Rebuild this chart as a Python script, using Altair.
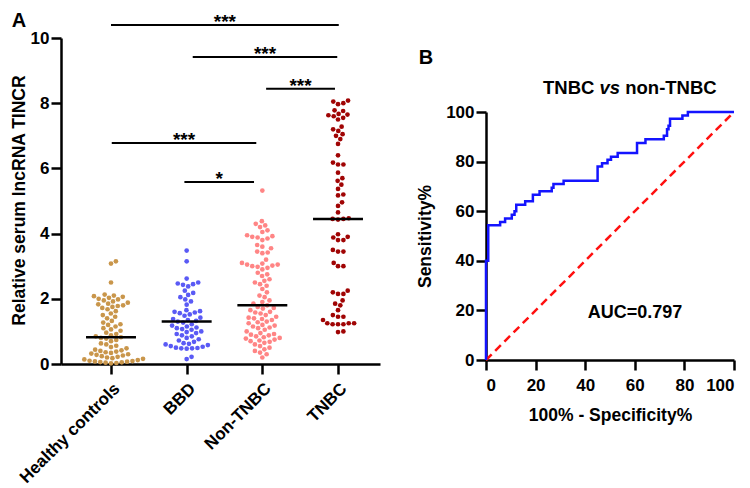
import json
import altair as alt
import numpy as np
import pandas as pd

# ---------------- data ----------------
groups = ["Healthy controls", "BBD", "Non-TNBC", "TNBC"]
group_colors = ["#C9964B", "#5A5AF5", "#FF8585", "#A00404"]

healthy = [3.15, 3.08, 2.50,
           2.13, 2.10, 2.08, 2.06, 2.03, 2.00, 1.98, 1.95, 1.92, 1.88, 1.85, 1.83, 1.80, 1.78, 1.75, 1.72, 1.68, 1.62, 1.55,
           1.50, 1.45, 1.40, 1.32, 1.27, 1.22, 1.20, 1.15, 1.10, 1.06, 1.02,
           0.96, 0.92, 0.88, 0.85, 0.82, 0.80, 0.78, 0.74, 0.70, 0.63, 0.60, 0.56, 0.52, 0.48,
           0.44, 0.42, 0.40, 0.38, 0.36, 0.34, 0.32, 0.30, 0.28, 0.26, 0.24, 0.22, 0.20,
           0.18, 0.16, 0.14, 0.12, 0.10, 0.09, 0.08, 0.07, 0.06, 0.05, 0.04, 0.03, 0.02]
bbd = [3.48, 3.15, 2.62, 2.50, 2.47, 2.45, 2.43, 2.38, 2.25, 2.18, 2.12, 2.05, 1.98, 1.92, 1.82,
       1.65, 1.62, 1.60, 1.58, 1.56, 1.52, 1.48, 1.42, 1.38, 1.35, 1.32, 1.30, 1.27, 1.22, 1.18,
       1.15, 1.12, 1.10, 1.07, 1.05, 1.00, 0.98, 0.95, 0.92, 0.88, 0.85, 0.80, 0.76, 0.72, 0.68,
       0.64, 0.62, 0.60, 0.58, 0.55, 0.53, 0.50, 0.49, 0.48, 0.48, 0.47, 0.22, 0.15]
non_tnbc = [5.32, 4.38, 4.30, 4.25, 4.20, 4.10, 4.05, 3.95, 3.92, 3.90, 3.88, 3.85, 3.80, 3.65, 3.60,
            3.55, 3.45, 3.42, 3.40, 3.20, 3.10, 3.08, 3.05, 3.05, 3.02, 3.00, 2.98, 2.95, 2.90, 2.80,
            2.75, 2.70, 2.60, 2.55, 2.50, 2.45, 2.40, 2.30, 2.20, 2.10, 2.05, 1.95, 1.90, 1.85, 1.80,
            1.75, 1.72, 1.70, 1.65, 1.60, 1.58, 1.55, 1.50, 1.45, 1.42, 1.40, 1.38, 1.35, 1.30, 1.28,
            1.25, 1.20, 1.18, 1.15, 1.12, 1.10, 1.05, 1.00, 0.95, 0.92, 0.90, 0.88, 0.85, 0.82, 0.80,
            0.78, 0.75, 0.72, 0.70, 0.68, 0.65, 0.60, 0.55, 0.50, 0.45, 0.40, 0.35, 0.30, 0.20]
tnbc = [8.08, 8.05, 8.00, 7.97,
        7.78, 7.76, 7.67, 7.65, 7.63, 7.60, 7.55, 7.50,
        7.28, 7.20, 7.15,
        7.05, 7.00, 6.90, 6.75,
        6.40,
        6.18, 6.12, 6.12,
        5.87, 5.70, 5.62, 5.50,
        5.37, 5.20, 5.17,
        4.96, 4.85, 4.65,
        4.47, 4.45, 4.45, 4.43,
        3.98, 3.90, 3.88, 3.80, 3.80,
        3.50, 3.45, 3.45,
        3.10, 3.00, 3.00,
        2.25, 2.20, 2.15, 2.15,
        1.95, 1.85, 1.80, 1.65,
        1.50, 1.45, 1.45, 1.35,
        1.25, 1.25, 1.25, 1.22, 1.22, 1.22,
        1.00, 0.98]
medians = [0.82, 1.30, 1.80, 4.45]

sig_x1 = [0.00, 1.08, 2.05, 0.01, 0.97]
sig_x2 = [3.01, 2.99, 2.96, 1.92, 1.89]
sig_y = [10.40, 9.42, 8.44, 6.78, 5.58]
sig_text = ["***", "***", "***", "***", "*"]

roc_fpr = [0, 0, 0.9, 0.9, 5.7, 5.7, 7.7, 7.7, 10.4, 10.4, 11.5, 11.5, 12.2, 12.2, 15.8, 15.8,
           18.9, 18.9, 21.6, 21.6, 26.5, 26.5, 27.2, 27.2, 31.3, 31.3, 45.0, 45.0, 46.8, 46.8,
           49.0, 49.0, 50.4, 50.4, 53.1, 53.1, 60.9, 60.9, 64.3, 64.3, 71.7, 71.7, 73.0, 73.0,
           73.6, 73.6, 74.2, 74.2, 79.2, 79.2, 81.4, 81.4, 100]
roc_tpr = [0, 40.0, 40.0, 54.3, 54.3, 55.6, 55.6, 57.1, 57.1, 58.6, 58.6, 60.0, 60.0, 62.6, 62.6, 64.0,
           64.0, 66.6, 66.6, 68.0, 68.0, 69.5, 69.5, 71.0, 71.0, 72.3, 72.3, 78.0, 78.0, 79.3,
           79.3, 80.7, 80.7, 82.0, 82.0, 83.5, 83.5, 87.5, 87.5, 89.0, 89.0, 90.4, 90.4, 93.0,
           93.0, 94.5, 94.5, 97.3, 97.3, 98.6, 98.6, 100, 100]
diag_x = [0, 100]
diag_y = [0, 100]
auc_label = "AUC=0.797"
title_parts = ["TNBC", "vs", "non-TNBC"]

# ---------------- layout helpers (page pixels -> view pixels) ----------------
FONT = "Liberation Sans"
PAD_L, PAD_T = 5, 3
W, H = 728, 477


def vx(p):
    return p - 8 - PAD_L


def vy(p):
    return p - 8 - PAD_T


A_X0_PX, A_STEP_PX = 111.0, 75.67
A_LEFT_PX, A_RIGHT_PX = 61.0, 380.0
A_BOT_PX, A_TOP_PX = 364.0, 38.0
A_X_DOMAIN = [(A_LEFT_PX - A_X0_PX) / A_STEP_PX, (A_RIGHT_PX - A_X0_PX) / A_STEP_PX]
A_Y_PER = (A_BOT_PX - A_TOP_PX) / 10.0

B_LEFT_PX, B_RIGHT_PX = 486.0, 734.0
B_BOT_PX, B_TOP_PX = 360.0, 112.0


def beeswarm(vals, d=5.4):
    vals = np.asarray(vals, dtype=float)
    order = np.argsort(vals, kind="stable")
    placed = []
    offs = np.zeros(len(vals))
    for i in order:
        y = vals[i] * A_Y_PER
        cands = [0.0]
        ivs = []
        for px, py in placed:
            dy = abs(py - y)
            if dy < d:
                dx = float(np.sqrt(d * d - dy * dy))
                ivs.append((px - dx, px + dx))
                cands += [px - dx, px + dx]
        cands.sort(key=lambda c: (round(abs(c), 6), -c))
        chosen = 0.0
        for c in cands:
            if all(not (a + 1e-6 < c < b - 1e-6) for a, b in ivs):
                chosen = c
                break
        placed.append((chosen, y))
        offs[i] = chosen
    return offs / A_STEP_PX


rows = []
for gi, (g, vals) in enumerate(zip(groups, [healthy, bbd, non_tnbc, tnbc])):
    offs = beeswarm(vals)
    for v, o in zip(vals, offs):
        rows.append({"group": g, "value": v, "xpos": gi + o})
pts = pd.DataFrame(rows)

med_df = pd.DataFrame({"group": groups, "x1": [i - 0.33 for i in range(4)],
                       "x2": [i + 0.33 for i in range(4)], "median": medians})
sig_df = pd.DataFrame({"x1": sig_x1, "x2": sig_x2, "y": sig_y, "t": sig_text})
sig_df["xm"] = (sig_df["x1"] + sig_df["x2"]) / 2

roc_df = pd.DataFrame({"fpr": roc_fpr, "tpr": roc_tpr, "i": range(len(roc_fpr))})
diag_df = pd.DataFrame({"fpr": diag_x, "tpr": diag_y})

axis_common = dict(
    grid=False, domainColor="black", domainWidth=2.5, tickColor="black", tickWidth=2.5,
    tickSize=10, labelFont=FONT, labelFontWeight="bold", labelColor="black",
    titleFont=FONT, titleFontWeight="bold", titleColor="black",
)

xA_scale = alt.Scale(domain=A_X_DOMAIN, range=[vx(A_LEFT_PX), vx(A_RIGHT_PX)], nice=False, zero=False)
yA_scale = alt.Scale(domain=[0, 10], range=[vy(A_BOT_PX), vy(A_TOP_PX)], nice=False)

label_expr = json.dumps(groups) + "[datum.value]"
xA_axis = alt.Axis(orient="bottom", offset=vy(A_BOT_PX) - H, values=[0, 1, 2, 3], labelExpr=label_expr,
                   labelAngle=315, labelAlign="right", labelBaseline="top", labelFontSize=17,
                   labelPadding=6, title=None, **axis_common)
yA_axis = alt.Axis(orient="left", offset=-vx(A_LEFT_PX), values=[0, 2, 4, 6, 8, 10], labelFontSize=17,
                   labelPadding=2, title="Relative serum lncRNA TINCR", titleFontSize=17.5,
                   titleAngle=270, titleAlign="center", titleBaseline="middle",
                   titleX=vx(19) - vx(A_LEFT_PX), titleY=vy(200), **axis_common)

points = alt.Chart(pts).mark_circle(size=22, opacity=1).encode(
    x=alt.X("xpos:Q", scale=xA_scale, axis=xA_axis),
    y=alt.Y("value:Q", scale=yA_scale, axis=yA_axis),
    color=alt.Color("group:N", scale=alt.Scale(domain=groups, range=group_colors), legend=None),
)
med_rules = alt.Chart(med_df).mark_rule(color="black", strokeWidth=2.5).encode(
    x="x1:Q", x2="x2:Q", y="median:Q")
sig_rules = alt.Chart(sig_df).mark_rule(color="black", strokeWidth=2).encode(
    x="x1:Q", x2="x2:Q", y="y:Q")
sig_stars = alt.Chart(sig_df).mark_text(font=FONT, fontWeight="bold", fontSize=19, color="black",
                                        align="center", baseline="alphabetic", dy=3).encode(
    x="xm:Q", y="y:Q", text="t:N")
label_A = alt.Chart(pd.DataFrame({"t": ["A"]})).mark_text(
    font=FONT, fontWeight="bold", fontSize=20, color="black", align="center", baseline="middle").encode(
    x=alt.value(vx(19)), y=alt.value(vy(21)), text="t:N")

panel_a = alt.layer(points, med_rules, sig_rules, sig_stars, label_A)

# ---------------- panel B ----------------
xB_scale = alt.Scale(domain=[0, 100], range=[vx(B_LEFT_PX), vx(B_RIGHT_PX)], nice=False)
yB_scale = alt.Scale(domain=[0, 100], range=[vy(B_BOT_PX), vy(B_TOP_PX)], nice=False)
xB_axis = alt.Axis(orient="bottom", offset=vy(B_BOT_PX) - H, values=[0, 20, 40, 60, 80, 100],
                   labelFontSize=17, labelPadding=7, labelAngle=0,
                   title="100% - Specificity%", titleFontSize=17.5,
                   titleAlign="center", titleBaseline="middle",
                   titleX=vx(610), titleY=415 - B_BOT_PX, **axis_common)
yB_axis = alt.Axis(orient="left", offset=-vx(B_LEFT_PX), values=[0, 20, 40, 60, 80, 100],
                   labelFontSize=17, labelPadding=2, title="Sensitivity%", titleFontSize=17.5,
                   titleAngle=270, titleAlign="center", titleBaseline="middle",
                   titleX=425 - B_LEFT_PX, titleY=vy(236), **axis_common)

diag = alt.Chart(diag_df).mark_line(color="#FF1010", strokeWidth=2.5, strokeDash=[8, 5]).encode(
    x=alt.X("fpr:Q", scale=xB_scale, axis=xB_axis),
    y=alt.Y("tpr:Q", scale=yB_scale, axis=yB_axis),
)
roc = alt.Chart(roc_df).mark_line(color="#1414FF", strokeWidth=2.5).encode(
    x="fpr:Q", y="tpr:Q", order="i:Q")
auc = alt.Chart(pd.DataFrame({"t": [auc_label]})).mark_text(
    font=FONT, fontWeight="bold", fontSize=18, color="black", align="center", baseline="middle").encode(
    x=alt.value(vx(635)), y=alt.value(vy(313)), text="t:N")

TS = 18.5
vs_center = vx(609.8)
title_df = pd.DataFrame({
    "t": title_parts,
    "px": [vs_center - 0.834 * TS, vs_center, vs_center + 0.834 * TS],
})
t_left = alt.Chart(title_df.iloc[[0]]).mark_text(
    font=FONT, fontWeight="bold", fontSize=TS, color="black", align="right", baseline="middle").encode(
    x=alt.value(float(title_df["px"][0])), y=alt.value(vy(88)), text="t:N")
t_mid = alt.Chart(title_df.iloc[[1]]).mark_text(
    font=FONT, fontWeight="bold", fontStyle="italic", fontSize=TS, color="black", align="center",
    baseline="middle").encode(
    x=alt.value(float(title_df["px"][1])), y=alt.value(vy(88)), text="t:N")
t_right = alt.Chart(title_df.iloc[[2]]).mark_text(
    font=FONT, fontWeight="bold", fontSize=TS, color="black", align="left", baseline="middle").encode(
    x=alt.value(float(title_df["px"][2])), y=alt.value(vy(88)), text="t:N")
label_B = alt.Chart(pd.DataFrame({"t": ["B"]})).mark_text(
    font=FONT, fontWeight="bold", fontSize=20, color="black", align="center", baseline="middle").encode(
    x=alt.value(vx(426)), y=alt.value(vy(58)), text="t:N")

panel_b = alt.layer(diag, roc, auc, t_left, t_mid, t_right, label_B)

chart = alt.layer(panel_a, panel_b).resolve_scale(
    x="independent", y="independent", color="independent"
).properties(
    width=W, height=H,
    autosize=alt.AutoSizeParams(type="none"),
    padding={"left": PAD_L, "top": PAD_T, "right": 0, "bottom": 0},
).configure(background="white").configure_view(stroke=None)

chart.save("out.html", embed_options={"renderer": "svg", "actions": False})
